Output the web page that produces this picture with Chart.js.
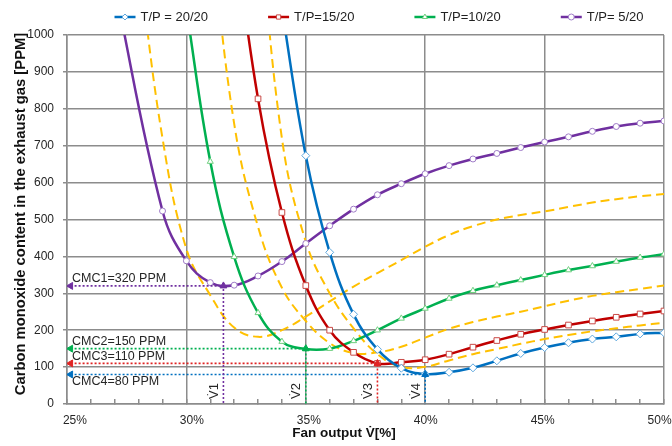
<!DOCTYPE html>
<html>
<head>
<meta charset="utf-8">
<script src="https://cdn.jsdelivr.net/npm/chart.js@4.4.1/dist/chart.umd.min.js"></script>
<style>
  html, body { margin: 0; padding: 0; background: #fff; }
  #wrap { width: 672px; height: 446px; }
</style>
</head>
<body>
<div id="wrap"><canvas id="coChart" width="672" height="446"></canvas></div>
<script>
// fan output [%] at which the curves were read
const fanOutput = [27, 28, 29, 30, 31, 32, 33, 34, 35, 36, 37, 38, 39, 40, 41, 42, 43, 44, 45, 46, 47, 48, 49, 50];

// CO in exhaust gas [PPM] for each T/P setting (null = no point)
const co_20_20 = [null, null, null, null, null, null, null, 1070, 673, 411, 243, 148, 97, 81, 86, 98, 117, 137, 153, 166, 176, 182, 190, 193];
const co_15_20 = [null, null, null, null, null, 1280, 827, 519, 321, 200, 140, 110, 113, 120, 135, 154, 172, 189, 202, 214, 225, 235, 244, 252];
const co_10_20 = [null, null, null, 1070, 657, 399, 247, 169, 149, 150, 171, 200, 232, 259, 286, 307, 322, 336, 350, 363, 374, 386, 397, 406];
const co_5_20  = [1130, null, 523, 388, 329, 322, 347, 386, 435, 483, 528, 567, 597, 624, 646, 664, 679, 695, 710, 724, 739, 752, 761, 767];

// intermediate curves (yellow dashed, not in legend)
const coDashA = [null, 1200, 720, 420, 295, 207, 182, 200, 237, 278, 318, 355, 390, 426, 458, 482, 500, 512, 522, 534, 546, 555, 563, 569];
const coDashB = [null, null, null, null, 1300, 760, 480, 315, 225, 165, 138, 140, 155, 180, 204, 222, 237, 250, 265, 280, 293, 303, 312, 321];
const coDashC = [null, null, null, null, null, null, 1350, 720, 440, 300, 205, 135, 100, 101, 118, 135, 149, 163, 176, 187, 197, 205, 213, 220];

// minimum CO (CMC) and the fan output where it is reached (V1..V4)
const cmcValues = [320, 150, 110, 80];
const vOptimum = [31.55, 35, 38, 40];

const xTicks = { min: 25, max: 50, step: 1, labelEvery: 5 };
const yTicks = { min: 0, max: 1000, step: 100 };
// the % labels in the original sit on a slightly narrower span than the grid
const xLabelSpan = { min: 24.66, max: 50.19 };

const xTitle = "Fan output V\u0307[%]";
const yTitle = "Carbon monoxide content in the exhaust gas [PPM]";

// ---- styles ----
const BLUE = "#0070C0", RED = "#C00000", GREEN = "#00B050", PURPLE = "#7030A0", YELLOW = "#FFC000";
const GRID = "#8c8c8c";
const FONT = "'Liberation Sans', Arial, sans-serif";
const cmcColors = [PURPLE, GREEN, "#E02424", BLUE];
const arrowInset = 0.15; // arrow head sits just inside the y axis

Chart.defaults.font.family = FONT;
Chart.defaults.color = "#262626";

function toPoints(vals) {
  return fanOutput.map((x, i) => ({ x, y: vals[i] })).filter((p) => p.y !== null);
}

function curve(label, vals, color, markerColor, pointStyle, radius) {
  return {
    label, data: toPoints(vals), inLegend: true,
    borderColor: color, borderWidth: 2.5, tension: 0.4,
    pointStyle, pointRadius: radius, pointBorderWidth: 1,
    pointBorderColor: markerColor, pointBackgroundColor: "#fff",
  };
}

function dashed(vals) {
  return {
    label: "", data: toPoints(vals),
    borderColor: YELLOW, borderWidth: 2, borderDash: [9, 5], tension: 0.4, pointRadius: 0,
  };
}

// dotted guide: arrow at the y axis -> CMC level -> down to V on the x axis
const guides = cmcValues.map((v, i) => ({
  label: "", data: [{ x: xTicks.min + arrowInset, y: v }, { x: vOptimum[i], y: v }, { x: vOptimum[i], y: 0 }],
  borderColor: cmcColors[i], borderWidth: 1.6, borderDash: [2, 2], tension: 0,
  pointStyle: "triangle", pointRotation: [-90, 0, 0], pointRadius: [4, 4, 0],
  pointBackgroundColor: cmcColors[i], pointBorderColor: cmcColors[i], pointBorderWidth: 1,
}));

// ---- legend drawn on top (line + marker + text) ----
const topLegend = {
  id: "topLegend",
  afterDraw(chart) {
    const { ctx } = chart;
    const items = chart.data.datasets.filter((d) => d.inLegend);
    ctx.save();
    ctx.font = "13px " + FONT;
    const lineLen = 21, textGap = 5, itemGap = 60, yc = 17;
    const widths = items.map((d) => lineLen + textGap + ctx.measureText(d.label).width);
    const total = widths.reduce((a, b) => a + b, 0) + itemGap * (items.length - 1);
    let x0 = 379 - total / 2;
    items.forEach((d, i) => {
      ctx.setLineDash([]);
      ctx.strokeStyle = d.borderColor;
      ctx.lineWidth = 2.5;
      ctx.beginPath();
      ctx.moveTo(x0, yc);
      ctx.lineTo(x0 + lineLen, yc);
      ctx.stroke();
      ctx.fillStyle = "#fff";
      ctx.strokeStyle = d.pointBorderColor;
      ctx.lineWidth = 1;
      Chart.helpers.drawPoint(ctx, { pointStyle: d.pointStyle, radius: 3, borderWidth: 1, rotation: 0 }, x0 + lineLen / 2, yc);
      ctx.fillStyle = "#222";
      ctx.textAlign = "left";
      ctx.textBaseline = "middle";
      ctx.fillText(d.label, x0 + lineLen + textGap, yc);
      x0 += widths[i] + itemGap;
    });
    ctx.restore();
  },
};

// ---- CMC and V labels, axis titles (placed as in the original) ----
const guideLabels = {
  id: "guideLabels",
  afterDatasetsDraw(chart) {
    const { ctx, scales: { x, y } } = chart;
    ctx.save();
    ctx.font = "12.5px " + FONT;
    ctx.fillStyle = "#262626";
    ctx.textBaseline = "middle";
    cmcValues.forEach((v, i) => {
      const dy = i === cmcValues.length - 1 ? 7 : -7; // last label sits under its line
      ctx.textAlign = "left";
      ctx.fillText(`CMC${i + 1}=${v} PPM`, x.getPixelForValue(xTicks.min) + 5, y.getPixelForValue(v) + dy);
    });
    vOptimum.forEach((v, i) => {
      ctx.save();
      ctx.translate(x.getPixelForValue(v) - 9, y.getPixelForValue(0) - 13);
      ctx.rotate(-Math.PI / 2);
      ctx.textAlign = "center";
      ctx.font = "13px " + FONT;
      ctx.fillText(`V\u0307${i + 1}`, 0, 0);
      ctx.restore();
    });
    ctx.fillStyle = "#111";
    ctx.textAlign = "center";
    ctx.font = "bold 13.5px " + FONT;
    ctx.fillText(xTitle, 344, 433);
    ctx.save();
    ctx.translate(21, 214);
    ctx.rotate(-Math.PI / 2);
    ctx.font = "bold 14.8px " + FONT;
    ctx.fillText(yTitle, 0, 0);
    ctx.restore();
    ctx.restore();
  },
};

new Chart(document.getElementById("coChart"), {
  type: "line",
  data: {
    datasets: [
      ...guides,
      curve("T/P = 20/20", co_20_20, BLUE, "#5fa8de", "rectRot", 4),
      curve("T/P=15/20", co_15_20, RED, "#c94a47", "rect", 4),
      curve("T/P=10/20", co_10_20, GREEN, "#6fcf7f", "triangle", 3.5),
      curve("T/P= 5/20", co_5_20, PURPLE, "#a07cc8", "circle", 3),
      dashed(coDashA),
      dashed(coDashB),
      dashed(coDashC),
    ],
  },
  options: {
    responsive: false,
    devicePixelRatio: 1,
    animation: false,
    layout: { padding: { top: 35, right: 8, left: 0, bottom: 0 } },
    elements: { line: { capBezierPoints: false } },
    plugins: { legend: { display: false }, tooltip: { enabled: false } },
    scales: {
      x: {
        type: "linear",
        min: xTicks.min, max: xTicks.max,
        weight: 0,
        ticks: { stepSize: xTicks.step, autoSkip: false, display: false },
        grid: {
          color: (c) => (c.tick && c.tick.value % xTicks.labelEvery === 0 ? GRID : "rgba(0,0,0,0)"),
          tickColor: GRID, tickLength: -5, lineWidth: 1.5,
        },
        border: { color: GRID, width: 1.5 },
        afterFit(s) { s.height = 1; s.paddingLeft = 0; s.paddingRight = 0; },
      },
      xLabels: {
        type: "linear",
        position: "bottom",
        axis: "x",
        weight: 1,
        min: xLabelSpan.min, max: xLabelSpan.max,
        ticks: {
          stepSize: xTicks.labelEvery, includeBounds: false, autoSkip: false, maxRotation: 0,
          padding: 8, font: { size: 12 }, callback: (v) => v + "%",
        },
        grid: { display: false, drawTicks: false },
        border: { display: false },
        afterFit(s) { s.height = 41; s.paddingLeft = 0; s.paddingRight = 0; },
      },
      y: {
        min: yTicks.min, max: yTicks.max,
        ticks: { stepSize: yTicks.step, padding: 9, font: { size: 12 }, callback: (v) => String(v) },
        grid: { color: GRID, tickColor: GRID, tickLength: 4, lineWidth: 1.5 },
        border: { color: GRID, width: 1.5 },
        afterFit(s) { s.width = 67; },
      },
    },
  },
  plugins: [guideLabels, topLegend],
});
</script>
</body>
</html>
